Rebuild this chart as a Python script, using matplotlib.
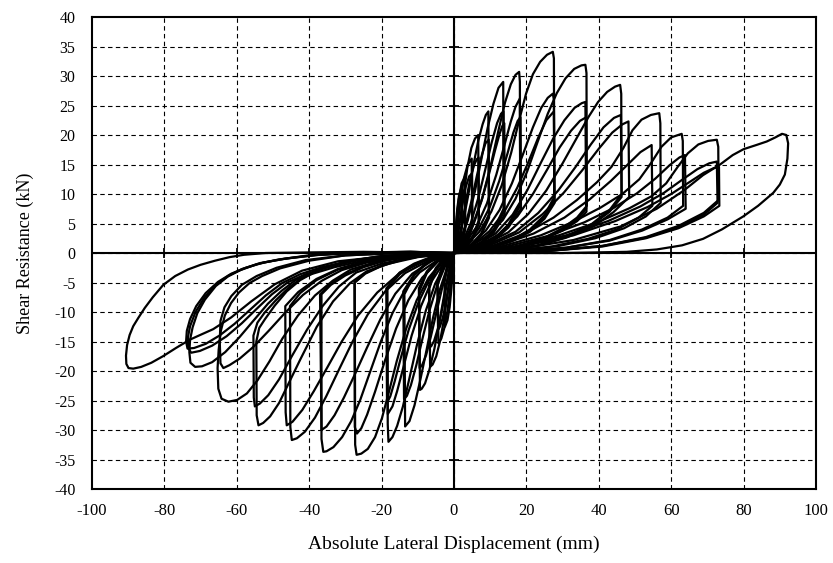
import numpy as np
import matplotlib
matplotlib.use("Agg")
import matplotlib.pyplot as plt

plt.rcParams['font.family'] = ['Liberation Serif', 'DejaVu Serif']
plt.rcParams['axes.unicode_minus'] = False

# axis ticks
x_ticks = list(range(-100, 101, 20))
y_ticks = list(range(-40, 41, 5))

# positive half cycles (loading up to the peak, drop, unloading back)
pos_02 = [
    [(0, 0), (0.2, 1.5), (0.5, 4.5), (0.9, 7.5), (1.4, 9.8), (2.1, 11.2), (2.2, 4.5), (1.6, 1.8), (0.8, 0.5), (0, 0)],
]
pos_03 = [
    [(0, 0), (0.3, 2), (0.7, 5.5), (1.3, 9), (2.1, 11.8), (3.0, 12.9), (3.1, 4.5), (2.2, 1.8), (1.0, 0.4), (0, 0)],
    [(0, 0), (0.4, 1.8), (0.9, 4.8), (1.6, 8), (2.3, 10), (3.0, 10.8), (3.1, 4), (2.2, 1.6), (1.0, 0.4), (0, 0)],
]
pos_05 = [
    [(0, 0), (0.5, 2), (1.1, 5.5), (1.9, 9.5), (2.8, 12.8), (3.8, 15), (4.9, 16.0), (5.0, 5), (3.8, 2.2), (2, 0.6), (0, 0)],
    [(0, 0), (0.7, 1.8), (1.5, 5), (2.4, 8.5), (3.3, 11.3), (4.2, 13), (5.0, 13.5), (5.1, 4.5), (3.8, 2), (2, 0.6), (0, 0)],
]
pos_07 = [
    [(0, 0), (0.8, 2), (1.7, 5.5), (2.7, 10), (3.7, 14.5), (4.8, 17.8), (5.8, 19.4), (6.7, 20.0), (6.8, 5.5), (5, 2.4), (2.6, 0.7), (0, 0)],
    [(0, 0), (1.1, 1.8), (2.2, 5), (3.3, 8.8), (4.4, 12.3), (5.5, 14.8), (6.3, 15.9), (6.8, 16.2), (6.9, 5), (5, 2.2), (2.6, 0.7), (0, 0)],
]
pos_10 = [
    [(0, 0), (1.2, 2), (2.6, 5.5), (4, 10), (5.4, 15), (6.7, 19), (7.9, 21.8), (8.8, 23.4), (9.5, 24.0), (9.6, 6.5), (7.5, 3.3), (4.5, 1.2), (2, 0.3), (0, 0)],
    [(0, 0), (1.6, 1.8), (3.3, 5), (4.9, 9), (6.4, 13.3), (7.7, 16.6), (8.7, 18.6), (9.6, 19.2), (9.7, 6), (7.5, 3), (4.5, 1.1), (2, 0.3), (0, 0)],
]
pos_14 = [
    [(0, 0), (1.8, 2), (3.8, 5.5), (5.8, 10.5), (7.6, 16), (9.3, 21.2), (10.9, 25.3), (12.3, 28), (13.6, 29.0), (13.7, 7.5),
     (11, 4), (7.5, 1.8), (3.5, 0.5), (0, 0)],
    [(0, 0), (2.3, 1.8), (4.6, 5), (6.8, 9.5), (8.7, 14.3), (10.4, 18.7), (11.9, 22), (13, 23.6), (13.7, 24.0), (13.8, 7),
     (11, 3.7), (7.5, 1.7), (3.5, 0.5), (0, 0)],
    [(0, 0), (2.7, 1.6), (5.3, 4.7), (7.6, 8.8), (9.6, 13.2), (11.3, 17.3), (12.6, 20.2), (13.4, 21.6), (13.9, 22.0), (14, 6.5),
     (11, 3.5), (7.5, 1.6), (3.5, 0.5), (0, 0)],
]
pos_18 = [
    [(0, 0), (2.5, 1.8), (5.2, 4.8), (7.8, 9.3), (10.2, 15), (12.3, 20.8), (14.1, 25.5), (15.7, 28.6), (17, 30.2), (18.0, 30.7),
     (18.2, 29), (18.3, 8.5), (15, 4.8), (11, 2.4), (6, 0.8), (0, 0)],
    [(0, 0), (3, 1.6), (6.2, 4.4), (9.1, 8.4), (11.7, 13.3), (13.9, 18.2), (15.7, 22.3), (17, 24.8), (18.2, 26.2),
     (18.3, 8), (15, 4.5), (11, 2.2), (6, 0.8), (0, 0)],
    [(0, 0), (3.4, 1.5), (6.8, 4.1), (9.9, 7.8), (12.5, 12.2), (14.7, 16.7), (16.4, 20.4), (17.6, 22.4), (18.4, 23.0),
     (18.5, 7.5), (15, 4.3), (11, 2.1), (6, 0.7), (0, 0)],
]
pos_27 = [
    [(0, 0), (3.5, 1.4), (7, 3.6), (10.3, 7), (13.2, 11.5), (15.8, 17), (18, 22.5), (19.9, 27), (21.8, 30.3), (23.8, 32.4),
     (25.7, 33.6), (27.3, 34.1), (27.6, 33), (27.7, 9.5), (25, 6.4), (21, 4), (16, 2.2), (10, 0.9), (5, 0.3), (0, 0)],
    [(0, 0), (4.5, 1.4), (8.8, 3.8), (12.6, 7.3), (16, 11.8), (19.1, 16.8), (21.8, 21.3), (24.1, 24.6), (25.9, 26.3), (27.3, 27.0),
     (27.6, 26), (27.7, 9), (25, 6.1), (21, 3.8), (16, 2.1), (10, 0.9), (5, 0.3), (0, 0)],
    [(0, 0), (5, 1.3), (9.8, 3.7), (13.9, 7), (17.5, 11.1), (20.6, 15.5), (23.3, 19.6), (25.5, 22.5), (27.6, 24.0),
     (27.8, 8.5), (25, 5.8), (21, 3.6), (16, 2), (10, 0.8), (5, 0.3), (0, 0)],
]
pos_36 = [
    [(0, 0), (5, 1.3), (9.5, 3), (13.5, 5.6), (17, 9.2), (20.2, 13.8), (23.2, 19), (25.9, 23.6), (28.4, 27.1), (30.8, 29.6),
     (33.2, 31.2), (35.2, 31.8), (36.3, 31.9), (36.6, 30.5), (36.7, 8), (34, 6), (30, 4.2), (25, 2.6), (18, 1.2), (10, 0.4), (0, 0)],
    [(0, 0), (6, 1.3), (11.5, 3.3), (16.2, 6.5), (20.3, 10.7), (24, 15.3), (27.4, 19.4), (30.5, 22.5), (33.3, 24.6), (35.3, 25.4), (36.3, 25.6),
     (36.5, 7.5), (34, 5.7), (30, 4), (25, 2.5), (18, 1.1), (10, 0.4), (0, 0)],
    [(0, 0), (6.5, 1.2), (12.5, 3.2), (17.5, 6.2), (21.8, 10), (25.7, 14.1), (29.2, 17.9), (32.3, 20.7), (34.8, 22.4), (36.5, 23.0),
     (36.6, 7), (34, 5.4), (30, 3.8), (25, 2.4), (18, 1.1), (10, 0.4), (0, 0)],
]
pos_46 = [
    [(0, 0), (8, 1.3), (15, 3.5), (20.5, 6.6), (25.5, 10.6), (30, 15.2), (34, 19.6), (37.2, 23.1), (39.8, 25.6), (42.3, 27.3),
     (44.5, 28.2), (45.9, 28.5), (46.2, 27), (46.3, 10), (43, 7.3), (38, 4.9), (31, 2.8), (23, 1.3), (13, 0.4), (0, 0)],
    [(0, 0), (9, 1.3), (17, 3.6), (23.3, 6.8), (28.8, 10.6), (33.6, 14.6), (37.8, 18.4), (41.3, 21.3), (44.2, 22.9), (46.1, 23.4),
     (46.3, 9.5), (43, 7), (38, 4.7), (31, 2.7), (23, 1.2), (13, 0.4), (0, 0)],
    [(0, 0), (9.5, 1.2), (18, 3.5), (24.5, 6.6), (30.3, 10.2), (35.4, 14), (39.9, 17.6), (43.7, 20.4), (46.5, 21.8), (48.2, 22.3),
     (48.4, 9.5), (44, 6.9), (38.5, 4.5), (31, 2.6), (23, 1.2), (13, 0.4), (0, 0)],
]
pos_56 = [
    [(0, 0), (11, 1.3), (20, 3.4), (27.5, 6), (34, 9), (39.5, 12), (43.5, 14.6), (46.8, 17.8), (49.3, 20.8), (51.8, 22.6),
     (54.4, 23.4), (56.7, 23.7), (57, 22), (57.1, 8.5), (53, 6.2), (47, 4.2), (39, 2.5), (29, 1.2), (16, 0.3), (0, 0)],
    [(0, 0), (12, 1.2), (22, 3.3), (30.5, 6), (37.5, 9.1), (43.3, 12.2), (48, 15), (51.5, 17.1), (54.6, 18.3),
     (54.8, 8), (51, 6), (45, 4), (37, 2.4), (27, 1.1), (15, 0.3), (0, 0)],
]
pos_63 = [
    [(0, 0), (13, 1.1), (24, 3), (33, 5.3), (40.5, 7.7), (46.5, 10), (51.2, 12.5), (54.6, 15.4), (57.3, 18), (60, 19.6),
     (62.9, 20.2), (63.2, 19), (63.3, 8), (59, 6), (52, 4), (43, 2.2), (31, 0.9), (16, 0.2), (0, 0)],
    [(0, 0), (14, 1), (26, 2.9), (36, 5.2), (44, 7.6), (50.5, 10.1), (55.6, 12.6), (59.6, 14.9), (62.3, 16.2), (63.8, 16.6),
     (64, 7.5), (59, 5.7), (52, 3.8), (43, 2.1), (31, 0.9), (16, 0.2), (0, 0)],
]
pos_73 = [
    [(0, 0), (16, 1), (29, 3), (40, 5.3), (48.5, 7.6), (54.5, 9.6), (58.6, 11.8), (61.8, 14.6), (64.6, 16.9), (67.5, 18.4), (70.2, 19),
     (72.6, 19.2), (73, 18), (73.1, 9), (69, 6.8), (62, 4.6), (53, 2.7), (41, 1.2), (25, 0.3), (0, 0)],
    [(0, 0), (17, 1), (31, 3), (42.5, 5.4), (51.5, 7.9), (58, 10.2), (63, 12.4), (67.2, 14.2), (70.5, 15.2), (72.6, 15.5),
     (72.8, 8.5), (69, 6.5), (62, 4.4), (53, 2.6), (41, 1.2), (25, 0.3), (0, 0)],
    [(0, 0), (18, 1), (33, 3), (44.5, 5.4), (53.5, 7.8), (60, 10), (65, 12), (69, 13.6), (71.8, 14.4), (73.2, 14.6),
     (73.3, 8), (69, 6.2), (62, 4.2), (53, 2.5), (41, 1.1), (25, 0.3), (0, 0)],
]
pos_92 = [
    [(0, 0), (18, 0.7), (33, 2.2), (46, 4.5), (56, 7.5), (63.5, 10.6), (68.8, 13.2), (73.5, 15), (77, 16.6), (80, 17.6), (83.5, 18.3),
     (86.4, 18.9), (88.8, 19.6), (90.6, 20.2), (91.8, 20.0), (92.3, 18.6), (92.1, 16), (91.4, 13.3), (90, 11.6), (88.2, 10.2), (84, 8),
     (79.9, 6.2), (74, 4), (68.8, 2.4), (63, 1.3), (56, 0.6), (47.7, 0.2), (30, 0), (0, 0)],
]

# negative half cycles (loading down to the peak, rise, unloading back)
neg_02 = [
    [(0, 0), (-0.3, -2.5), (-0.7, -6), (-1.2, -9.2), (-1.8, -11.4), (-2.5, -12.5), (-2.6, -5), (-1.9, -2), (-0.9, -0.5), (0, 0)],
]
neg_04 = [
    [(0, 0), (-0.5, -2.5), (-1.1, -6.3), (-1.8, -9.8), (-2.7, -12.8), (-3.5, -14.5), (-4.3, -15.3), (-4.5, -5.5), (-3.2, -2.3), (-1.5, -0.6), (0, 0)],
    [(0, 0), (-0.7, -2.2), (-1.5, -5.6), (-2.3, -8.7), (-3.1, -11), (-3.9, -12.5), (-4.4, -13.0), (-4.6, -5), (-3.2, -2.1), (-1.5, -0.6), (0, 0)],
]
neg_07 = [
    [(0, 0), (-0.8, -2.5), (-1.7, -6.6), (-2.7, -11), (-3.8, -14.8), (-4.9, -17.5), (-5.9, -18.9), (-6.6, -19.3), (-6.8, -6), (-5, -2.7), (-2.6, -0.8), (0, 0)],
    [(0, 0), (-1.1, -2.2), (-2.2, -6), (-3.3, -9.6), (-4.4, -12.7), (-5.5, -14.9), (-6.3, -15.8), (-6.7, -16), (-6.9, -5.5), (-5, -2.5), (-2.6, -0.8), (0, 0)],
]
neg_09 = [
    [(0, 0), (-1.2, -2.5), (-2.6, -6.7), (-4, -11.6), (-5.4, -16.2), (-6.8, -19.8), (-8, -22.1), (-8.9, -23), (-9.4, -23.2), (-9.6, -6.5),
     (-7.5, -3.4), (-4.5, -1.3), (-2, -0.3), (0, 0)],
    [(0, 0), (-1.6, -2.3), (-3.3, -6), (-4.9, -10.2), (-6.4, -14.2), (-7.7, -17.3), (-8.8, -19), (-9.5, -19.5), (-9.7, -6),
     (-7.5, -3.1), (-4.5, -1.2), (-2, -0.3), (0, 0)],
]
neg_14 = [
    [(0, 0), (-1.8, -2.3), (-3.8, -6), (-5.8, -11), (-7.6, -16.5), (-9.3, -21.5), (-10.9, -25.8), (-12.3, -28.5), (-13.5, -29.4),
     (-13.7, -7), (-11, -3.8), (-7.5, -1.7), (-3.5, -0.5), (0, 0)],
    [(0, 0), (-2.3, -2), (-4.6, -5.4), (-6.8, -9.8), (-8.7, -14.5), (-10.4, -19), (-11.9, -22.4), (-13, -24.2), (-13.8, -24.8),
     (-14, -6.5), (-11, -3.6), (-7.5, -1.6), (-3.5, -0.5), (0, 0)],
]
neg_18 = [
    [(0, 0), (-2.5, -2), (-5.2, -5.2), (-7.8, -9.8), (-10.2, -15.5), (-12.3, -21.2), (-14.1, -26), (-15.7, -29.3), (-17, -31.2), (-18.1, -32.0),
     (-18.3, -29), (-18.4, -6), (-15, -3.6), (-11, -2), (-6, -0.7), (0, 0)],
    [(0, 0), (-3, -1.8), (-6.2, -4.8), (-9.1, -9), (-11.7, -14), (-13.9, -19.2), (-15.7, -23.4), (-17, -26), (-18.3, -27.3),
     (-18.5, -6), (-15, -3.4), (-11, -1.9), (-6, -0.7), (0, 0)],
    [(0, 0), (-3.4, -1.7), (-6.8, -4.5), (-9.9, -8.5), (-12.5, -13), (-14.7, -17.8), (-16.4, -21.8), (-17.6, -24.3), (-18.5, -25.4),
     (-18.7, -6), (-15, -3.3), (-11, -1.8), (-6, -0.6), (0, 0)],
]
neg_27 = [
    [(0, 0), (-3.5, -1.6), (-7, -4.2), (-10.3, -8), (-13.2, -12.8), (-15.8, -18.3), (-18, -23.6), (-19.9, -28), (-21.8, -31.2), (-23.8, -33.2),
     (-25.6, -34), (-26.9, -34.2), (-27.3, -32.5), (-27.4, -5), (-24.5, -3.5), (-20, -2.2), (-14, -1.1), (-7, -0.3), (0, 0)],
    [(0, 0), (-4.5, -1.5), (-8.8, -4.2), (-12.6, -8), (-16, -12.8), (-19.1, -18.3), (-21.8, -23.5), (-24, -27.4), (-25.6, -29.7), (-26.8, -30.6),
     (-27.4, -29.5), (-27.5, -5), (-24.5, -3.4), (-20, -2.1), (-14, -1), (-7, -0.3), (0, 0)],
]
neg_36 = [
    [(0, 0), (-5, -1.4), (-9.5, -3.3), (-13.5, -6.2), (-17, -10.2), (-20.2, -15), (-23.2, -20.2), (-25.9, -24.9), (-28.4, -28.5), (-30.9, -31.2),
     (-33.3, -32.9), (-35.2, -33.6), (-36.1, -33.7), (-36.6, -31.5), (-36.6, -7), (-34, -5.4), (-30, -3.8), (-25, -2.4), (-18, -1.1), (-9, -0.3), (0, 0)],
    [(0, 0), (-6, -1.3), (-11.5, -3.5), (-16.2, -6.9), (-20.3, -11.2), (-24, -16), (-27.4, -20.6), (-30.4, -24.5), (-33, -27.5), (-35.2, -29.4),
     (-36.6, -30.0), (-37, -7), (-34, -5.2), (-30, -3.6), (-25, -2.3), (-18, -1), (-9, -0.3), (0, 0)],
]
neg_45 = [
    [(0, 0), (-7, -1.3), (-13.5, -3.4), (-19, -6.5), (-23.8, -10.4), (-28, -15), (-31.8, -19.8), (-35.3, -24.3), (-38.4, -27.9), (-41.2, -30.3),
     (-43.4, -31.4), (-44.8, -31.7), (-45.2, -29.5), (-45.3, -9), (-42.5, -6.8), (-38, -4.6), (-32, -2.8), (-24, -1.4), (-13, -0.4), (0, 0)],
    [(0, 0), (-8, -1.3), (-15.2, -3.5), (-21.2, -6.7), (-26.5, -10.6), (-31, -15), (-35, -19.4), (-38.7, -23.4), (-41.9, -26.6), (-44.6, -28.6),
     (-46.2, -29.2), (-46.5, -27), (-46.6, -9), (-43, -6.6), (-38, -4.4), (-32, -2.7), (-24, -1.3), (-13, -0.4), (0, 0)],
]
neg_54 = [
    [(0, 0), (-10, -0.7), (-18, -1.8), (-24.1, -3.1), (-28.7, -5.1), (-33.4, -8.2), (-37.9, -12.5), (-42.5, -18.1), (-45.6, -22),
     (-48.3, -25.4), (-50.8, -27.7), (-52.7, -28.8), (-54, -29.2), (-54.5, -27.5), (-54.6, -15), (-53.8, -12.7), (-52.2, -11.2), (-49.5, -8.9),
     (-46.2, -6.5), (-42.5, -4.6), (-37.5, -2.9), (-30, -1.5), (-21, -0.6), (-10, -0.1), (0, 0)],
    [(0, 0), (-11, -0.7), (-20, -1.8), (-27, -3.3), (-31.8, -5.7), (-36.3, -9), (-40.6, -13), (-44.8, -17.5), (-48.3, -21.4),
     (-51.3, -24.1), (-53.6, -25.5), (-55, -26.0), (-55.3, -24.5), (-55.4, -14), (-54.3, -11.8), (-52.3, -10.1), (-49.2, -8),
     (-45.7, -5.9), (-42, -4.2), (-37, -2.7), (-29.5, -1.4), (-20, -0.5), (-10, -0.1), (0, 0)],
]
neg_62 = [
    [(0, 0), (-12, -0.6), (-22, -1.6), (-28.5, -2.8), (-33.5, -4.7), (-38.4, -7.2), (-43.1, -10.6), (-47.4, -14.5), (-51, -18.4), (-54.3, -21.6),
     (-57.2, -23.8), (-59.9, -24.9), (-62.3, -25.2), (-64.2, -24.7), (-65.1, -23), (-65.3, -19.5), (-65, -16.4), (-64.4, -13.2), (-63.3, -10.6),
     (-61.6, -8.5), (-59.4, -6.7), (-56.5, -5.1), (-53, -3.9), (-48, -2.6), (-40, -1.3), (-30, -0.4), (-15, 0), (0, 0)],
    [(0, 0), (-13, -0.6), (-24, -1.6), (-31, -2.9), (-36.5, -4.7), (-41.7, -7.1), (-46.6, -10.1), (-51.2, -13.2), (-55.4, -15.9), (-59.2, -17.9),
     (-62, -19), (-63.7, -19.5), (-64.5, -18.7), (-64.7, -15), (-64.5, -11.5), (-63.4, -9.2), (-61.5, -7.3), (-58.6, -5.4), (-54.5, -3.9),
     (-49, -2.5), (-41, -1.2), (-30, -0.4), (-15, 0), (0, 0)],
]
neg_73 = [
    [(0, 0), (-14, -0.5), (-25, -1.3), (-33, -2.4), (-39, -3.5), (-43.8, -4.6), (-47.6, -6.4), (-51.4, -8.6), (-55.3, -11.4), (-59.3, -14.3),
     (-63.2, -16.8), (-66.8, -18.5), (-69.6, -19.2), (-71.5, -19.3), (-72.8, -18.6), (-73.1, -16.8), (-72.9, -14.7), (-72.2, -12.6),
     (-70.9, -10.2), (-68.8, -7.9), (-65.8, -5.6), (-62.5, -4), (-59, -2.9), (-54.5, -1.9), (-48.5, -1.1), (-40, -0.4), (-28, 0), (-12, 0.2), (0, 0)],
    [(0, 0), (-15, -0.5), (-27, -1.3), (-35, -2.4), (-41, -3.6), (-46, -5), (-50.3, -7), (-54.4, -9.4), (-58.6, -11.9), (-62.8, -14.1),
     (-66.8, -15.7), (-70.2, -16.6), (-72.6, -16.9), (-73.5, -16), (-73.5, -14.3), (-72.9, -12.4), (-71.4, -10), (-69, -7.6), (-65.8, -5.4),
     (-62.2, -3.8), (-58.5, -2.7), (-53.5, -1.7), (-47, -1), (-38, -0.3), (-26, 0.1), (-12, 0.2), (0, 0)],
    [(0, 0), (-16, -0.5), (-28.5, -1.3), (-36.5, -2.4), (-42.5, -3.6), (-47.5, -5.1), (-52, -7.2), (-56.3, -9.6), (-60.6, -12), (-64.8, -14),
     (-68.6, -15.4), (-71.8, -16.1), (-73.6, -16.2), (-74, -15), (-73.8, -13.2), (-72.9, -11.2), (-71.2, -9), (-68.6, -6.8), (-65.2, -4.9),
     (-61.5, -3.5), (-57.5, -2.5), (-52.5, -1.6), (-46, -0.9), (-37, -0.3), (-25, 0.1), (-12, 0.2), (0, 0)],
]
neg_90 = [
    [(0, 0), (-18, -0.5), (-32, -1.4), (-42, -3), (-49.5, -5.3), (-56, -8.2), (-61.5, -10.9), (-66.5, -12.9), (-70.5, -14), (-73, -14.7),
     (-76.8, -16.1), (-80.4, -17.5), (-83.6, -18.6), (-86.4, -19.3), (-88.6, -19.6), (-89.9, -19.5), (-90.5, -18.8), (-90.6, -17.4),
     (-90.3, -15.6), (-89.6, -13.9), (-88.6, -12.4), (-87.2, -11), (-85.4, -9.3), (-83.2, -7.5), (-80.3, -5.4), (-77, -3.9), (-73.5, -2.8),
     (-70, -2), (-66, -1.3), (-62, -0.7), (-58, -0.3), (-52, 0), (-40, 0.1), (-25, 0.2), (0, 0)],
]

cycles = [pos_02, neg_02, pos_03, neg_04, pos_05, neg_07, pos_07, neg_09, pos_10, neg_14,
          pos_14, neg_18, pos_18, neg_27, pos_27, neg_36, pos_36, neg_45, pos_46, neg_54,
          pos_56, neg_62, pos_63, neg_73, pos_73, neg_90, pos_92]

fig = plt.figure(figsize=(8.33, 5.63), dpi=100)
ax = fig.add_axes([0.1104, 0.1314, 0.8692, 0.8384])

# dashed grid
for xv in x_ticks[1:-1]:
    ax.axvline(xv, color='black', lw=0.8, ls=(0, (4, 3)), zorder=1)
for yv in y_ticks[1:-1]:
    ax.axhline(yv, color='black', lw=0.8, ls=(0, (4, 3)), zorder=1)

# zero axes with small cross ticks
ax.axhline(0, color='black', lw=1.5, zorder=2)
ax.axvline(0, color='black', lw=1.5, zorder=2)
ax.plot(np.zeros(len(y_ticks)), y_ticks, ls='none', marker='_', ms=7, mew=1.3, color='black', zorder=2)
ax.plot(x_ticks, np.zeros(len(x_ticks)), ls='none', marker='|', ms=7, mew=1.3, color='black', zorder=2)

for level in cycles:
    for loop in level:
        xs = [p[0] for p in loop]
        ys = [p[1] for p in loop]
        ax.plot(xs, ys, color='black', lw=1.6, solid_joinstyle='round', zorder=3)

ax.set_xlim(-100, 100)
ax.set_ylim(-40, 40)
ax.set_xticks(x_ticks)
ax.set_yticks(y_ticks)
ax.tick_params(axis='both', length=0)
ax.tick_params(axis='x', labelsize=12, pad=10)
ax.tick_params(axis='y', labelsize=11.5, pad=12)
for sp in ax.spines.values():
    sp.set_linewidth(1.5)
    sp.set_color('black')

ax.set_xlabel('Absolute Lateral Displacement (mm)', fontsize=14, labelpad=12)
ax.set_ylabel('Shear Resistance (kN)', fontsize=13, labelpad=14)

fig.savefig('out.png', dpi=100)
